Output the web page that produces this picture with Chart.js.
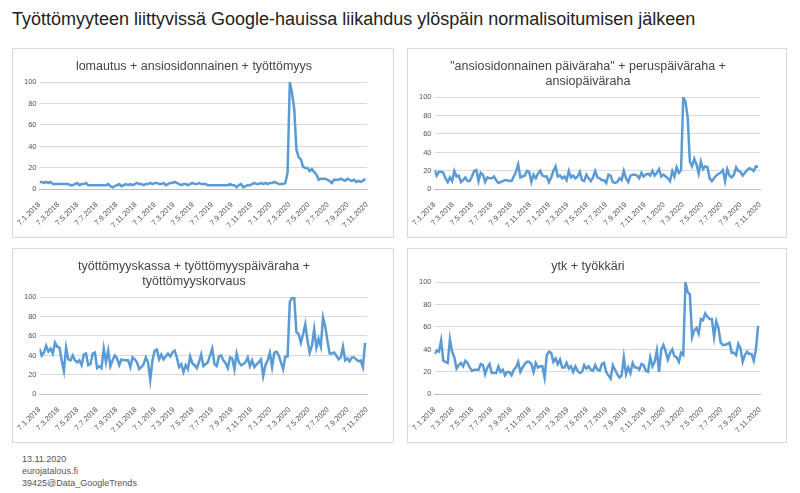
<!DOCTYPE html>
<html>
<head>
<meta charset="utf-8">
<script src="https://cdn.jsdelivr.net/npm/chart.js@4.4.0/dist/chart.umd.min.js"></script>
<style>
  body { margin: 0; background: #fff; font-family: "Liberation Sans", Arial, sans-serif; }
  #otsikko { position: absolute; left: 12px; top: 9px; font-size: 18px; color: #222; }
  .paneeli { position: absolute; border: 1px solid #d9d9d9; background: #fff; }
  #alaviite { position: absolute; left: 22px; top: 453px; font-size: 9px; color: #555; line-height: 12px; }
</style>
</head>
<body>
<div id="otsikko">Työttömyyteen liittyvissä Google-hauissa liikahdus ylöspäin normalisoitumisen jälkeen</div>
<div class="paneeli" style="left:12px;top:48px;width:380px;height:188px"><canvas id="g1"></canvas></div>
<div class="paneeli" style="left:407px;top:48px;width:378px;height:188px"><canvas id="g2"></canvas></div>
<div class="paneeli" style="left:12px;top:248px;width:380px;height:193px"><canvas id="g3"></canvas></div>
<div class="paneeli" style="left:407px;top:248px;width:378px;height:193px"><canvas id="g4"></canvas></div>
<div id="alaviite">13.11.2020<br>eurojatalous.fi<br>39425@Data_GoogleTrends</div>
<script>
// =====================================================
// DATA (viikoittain, alkaen 7.1.2018)
// =====================================================
const alkuPvm = "7.1.2018";

const tickLabels = ["7.1.2018","7.3.2018","7.5.2018","7.7.2018","7.9.2018","7.11.2018",
  "7.1.2019","7.3.2019","7.5.2019","7.7.2019","7.9.2019","7.11.2019",
  "7.1.2020","7.3.2020","7.5.2020","7.7.2020","7.9.2020","7.11.2020"];

const lomautus = [
  7,7,6,7,6,7,5,5,5,5,5,5,5,5,4,4,5,6,4,5,5,6,4,4,4,4,4,4,4,4,4,5,3,2,3,4,5,3,4,5,4,5,4,5,6,5,5,4,5,5,6,5,
  6,6,5,5,6,4,5,6,6,7,6,5,4,5,5,4,5,6,5,5,6,5,5,5,4,4,4,4,4,4,4,4,4,4,5,4,4,2,4,5,2,3,4,4,5,6,5,5,6,5,6,5,
  6,6,7,6,5,5,5,6,16,100,90,75,37,30,28,21,20,20,17,19,16,14,9,10,10,10,9,8,6,9,9,9,10,9,8,10,9,8,9,7,8,7,8,10
];

const ansiopaivaraha = [
  21,15,19,19,18,12,8,13,9,20,14,15,8,10,13,9,9,14,20,21,9,18,16,8,13,12,12,14,10,7,8,9,10,10,9,9,14,19,27,13,14,15,20,19,8,16,12,17,20,15,14,14,
  8,13,20,25,14,15,12,14,10,20,13,15,12,14,19,10,9,16,12,9,13,20,13,12,10,10,7,16,15,8,7,8,12,10,20,12,8,15,16,16,15,12,18,14,16,17,15,20,15,18,22,14,
  16,14,12,9,20,14,24,18,21,100,95,78,30,25,33,27,17,30,22,25,24,12,9,12,15,17,18,21,9,22,15,13,16,24,20,19,15,18,21,23,22,20,25,24
];

const tyottomyyskassa = [
  47,40,43,50,44,47,42,53,49,48,35,24,48,36,35,40,35,33,35,30,41,42,30,31,42,43,27,29,27,47,33,45,29,35,40,37,30,36,35,35,35,28,38,36,33,26,28,31,38,33,15,35,
  45,46,36,41,36,39,42,39,43,45,38,28,31,23,30,26,39,32,30,27,33,41,29,31,33,40,47,31,29,39,40,35,32,27,38,37,26,42,33,30,31,33,38,29,35,28,31,33,36,19,30,35,
  43,28,43,44,40,33,26,39,39,95,99,99,64,62,53,62,72,55,43,50,67,48,57,49,79,70,55,42,42,43,40,36,38,49,35,37,34,38,38,36,34,35,28,53
];

const ytk = [
  36,39,38,48,30,29,28,49,38,33,23,26,28,25,30,28,24,21,22,22,22,27,26,18,24,27,19,19,19,25,20,22,17,20,20,17,22,24,29,20,24,27,29,29,27,20,28,24,25,25,15,35,
  38,37,29,32,27,31,24,24,28,23,25,20,25,21,19,20,26,23,25,22,21,26,22,21,27,28,20,17,14,26,22,18,15,17,33,18,24,19,28,24,24,22,27,26,21,20,33,25,29,39,20,40,
  44,38,31,37,40,34,33,29,37,35,100,91,89,51,57,59,54,67,66,72,69,67,67,51,65,59,46,44,44,45,46,37,37,35,45,41,29,35,38,36,36,30,40,61
];

// =====================================================
// APUFUNKTIOT
// =====================================================
function paivia(pvm) {
  const [d, m, y] = pvm.split(".").map(Number);
  const [d0, m0, y0] = alkuPvm.split(".").map(Number);
  return (Date.UTC(y, m - 1, d) - Date.UTC(y0, m0 - 1, d0)) / 86400000;
}
const tickArvot = tickLabels.map(paivia);

function piirra(id, otsikko, arvot) {
  new Chart(document.getElementById(id), {
    type: "line",
    data: {
      datasets: [{
        data: arvot.map((v, i) => ({ x: i * 7, y: v })),
        borderColor: "#5b9bd5",
        borderWidth: 2.5,
        pointRadius: 0,
        tension: 0
      }]
    },
    options: {
      responsive: true,
      maintainAspectRatio: false,
      animation: false,
      layout: { padding: { left: 8, right: 26, top: 2, bottom: 4 } },
      plugins: {
        legend: { display: false },
        tooltip: { enabled: false },
        title: {
          display: true,
          text: otsikko,
          color: "#444",
          font: { size: 12.5, family: "Liberation Sans", weight: "normal" },
          padding: { top: 8, bottom: 8 }
        }
      },
      scales: {
        x: {
          type: "linear",
          min: 0,
          max: tickArvot[tickArvot.length - 1],
          afterBuildTicks: ax => { ax.ticks = tickArvot.map(v => ({ value: v })); },
          ticks: {
            autoSkip: false,
            minRotation: 45,
            maxRotation: 45,
            color: "#555",
            font: { size: 7.5, family: "Liberation Sans" },
            callback: v => tickLabels[tickArvot.indexOf(v)] || ""
          },
          grid: { display: false, drawTicks: true },
          border: { color: "#bfbfbf" }
        },
        y: {
          min: 0,
          max: 100,
          ticks: { stepSize: 10, color: "#555", font: { size: 7.5, family: "Liberation Sans" } },
          grid: { color: "#d9d9d9", drawTicks: false },
          border: { display: false }
        }
      }
    }
  });
}

// =====================================================
// KAAVIOT
// =====================================================
piirra("g1", "lomautus + ansiosidonnainen + työttömyys", lomautus);
piirra("g2", ["\"ansiosidonnainen päiväraha\" + peruspäiväraha +", "ansiopäiväraha"], ansiopaivaraha);
piirra("g3", ["työttömyyskassa + työttömyyspäiväraha +", "työttömyyskorvaus"], tyottomyyskassa);
piirra("g4", "ytk + työkkäri", ytk);
</script>
</body>
</html>
